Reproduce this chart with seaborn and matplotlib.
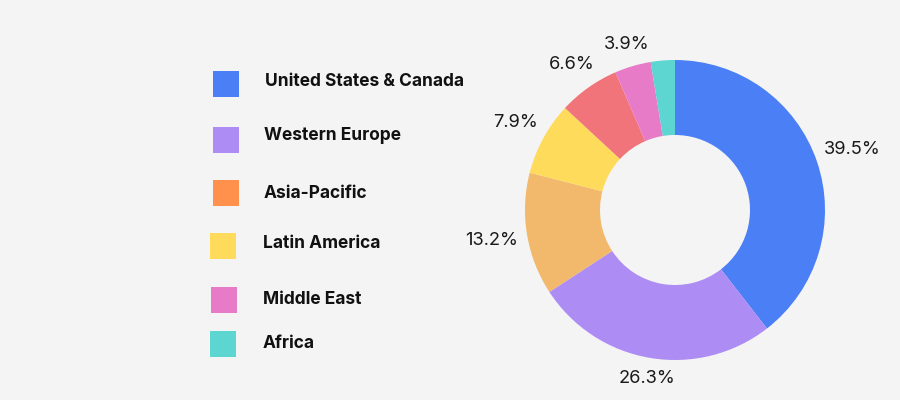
import numpy as np
import matplotlib
matplotlib.use("Agg")
import matplotlib.pyplot as plt
import seaborn as sns
from matplotlib.patches import Rectangle

# ---- data ----
slice_values = [39.5, 26.3, 13.2, 7.9, 6.6, 3.9, 2.6]
slice_labels = ["39.5%", "26.3%", "13.2%", "7.9%", "6.6%", "3.9%", ""]
slice_colors = ["#4A7FF5", "#AD8CF4", "#F2B96C", "#FFDB5C", "#F07479", "#E77BC8", "#5DD5D1"]

legend_labels = ["United States & Canada", "Western Europe", "Asia-Pacific",
                 "Latin America", "Middle East", "Africa"]
legend_colors = ["#4A7FF5", "#AD8CF4", "#FF914D", "#FFDB5C", "#E77BC8", "#5DD5D1"]

# ---- style ----
BG = "#F4F4F4"
sns.set_theme(style="white")
plt.rcParams["font.family"] = ["Inter", "DejaVu Sans"]

W, H = 900, 400
fig = plt.figure(figsize=(9, 4), dpi=100, facecolor=BG)

# donut axes: center (675,210), radius 150 px
cx, cy, R = 675, 210, 150
ax = fig.add_axes([(cx - R) / W, (H - cy - R) / H, 2 * R / W, 2 * R / H])
ax.set_facecolor(BG)
palette = sns.color_palette(slice_colors)
wedges, _ = ax.pie(slice_values, colors=palette, startangle=90, counterclock=False,
                   radius=1.0, wedgeprops=dict(width=0.5, linewidth=0))
ax.set_xlim(-1, 1)
ax.set_ylim(-1, 1)
ax.set_aspect("equal")
ax.axis("off")

# outside labels, placed so the text box sits just outside the ring
texts = []
for w, lab in zip(wedges, slice_labels):
    t = ax.text(0, 0, lab, ha="center", va="center", fontsize=13.2,
                color="#1a1a1a", family=["Inter", "DejaVu Sans"])
    texts.append((w, t))
fig.canvas.draw()
renderer = fig.canvas.get_renderer()
gap = 8.0
for w, t in texts:
    if not t.get_text():
        continue
    ang = np.deg2rad((w.theta1 + w.theta2) / 2)
    dx, dy = np.cos(ang), np.sin(ang)
    bb = t.get_window_extent(renderer)
    hw, hh = bb.width / 2, bb.height / 2
    ext = hw * abs(dx) + hh * abs(dy)
    r_px = R + gap + ext
    t.set_position((dx * r_px / R, dy * r_px / R))

# legend (manual)
sq_x = [213, 213, 213, 210, 211, 210]
sq_yc = [84, 140, 193, 246, 300, 344]
txt_x = [265, 264, 264, 263, 263, 263]
txt_yc = [81, 135, 193, 244, 299, 343]
sq = 26
for lab, col, sx, syc, tx, tyc in zip(legend_labels, legend_colors, sq_x, sq_yc, txt_x, txt_yc):
    fig.add_artist(Rectangle((sx / W, (H - syc - sq / 2) / H), sq / W, sq / H,
                             transform=fig.transFigure, facecolor=col, edgecolor="none"))
    fig.text(tx / W, (H - tyc) / H, lab, ha="left", va="center", fontsize=12.5,
             fontweight="bold", color="#111111")

fig.savefig("out.png", dpi=100, facecolor=BG)
